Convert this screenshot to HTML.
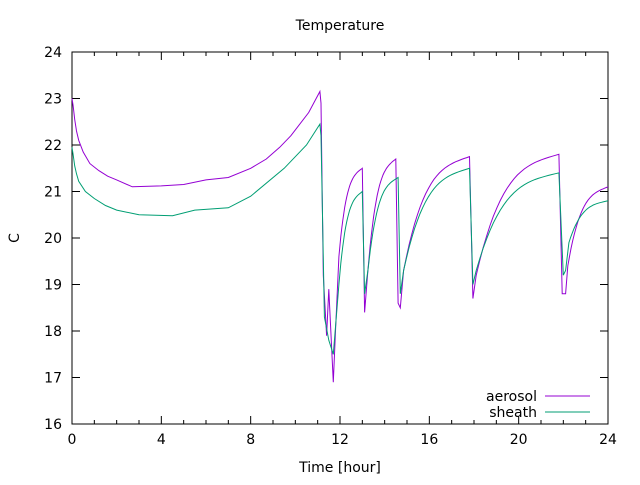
<!DOCTYPE html>
<html><head><meta charset="utf-8"><style>
body{margin:0;background:#fff}
text{font-family:"DejaVu Sans","Liberation Sans",sans-serif;font-size:14px;fill:#000}
</style></head><body>
<svg id="s" width="640" height="480" xmlns="http://www.w3.org/2000/svg">
<rect width="640" height="480" fill="#fff"/>
<g id="ax" stroke="#000" stroke-width="1" fill="none"></g>
<g id="lab"></g>
<text x="340" y="30" text-anchor="middle">Temperature</text>
<text x="340" y="472" text-anchor="middle">Time [hour]</text>
<text x="0" y="0" text-anchor="middle" transform="translate(19,238) rotate(-90)">C</text>
<text x="537" y="401" text-anchor="end">aerosol</text>
<text x="537" y="417" text-anchor="end">sheath</text>
<line x1="545" y1="396" x2="590" y2="396" stroke="#9400d3"/>
<line x1="545" y1="412" x2="590" y2="412" stroke="#009e73"/>
<polyline id="a" fill="none" stroke="#9400d3" stroke-width="1"/>
<polyline id="b" fill="none" stroke="#009e73" stroke-width="1"/>
</svg>
<script>
var X0=72,X1=608,Y0=424,Y1=52;
function px(t){return X0+(X1-X0)*t/24}
function py(v){return Y0-(Y0-Y1)*(v-16)/8}
var ns="http://www.w3.org/2000/svg";
var ax=document.getElementById('ax'),lab=document.getElementById('lab');
function L(x1,y1,x2,y2){var l=document.createElementNS(ns,'line');l.setAttribute('x1',x1);l.setAttribute('y1',y1);l.setAttribute('x2',x2);l.setAttribute('y2',y2);ax.appendChild(l)}
function T(x,y,s,a){var t=document.createElementNS(ns,'text');t.setAttribute('x',x);t.setAttribute('y',y);t.setAttribute('text-anchor',a);t.textContent=s;lab.appendChild(t)}
var r=document.createElementNS(ns,'rect');r.setAttribute('x',X0);r.setAttribute('y',Y1);r.setAttribute('width',X1-X0);r.setAttribute('height',Y0-Y1);ax.appendChild(r);
for(var v=16;v<=24;v++){var y=py(v);L(X0,y,X0+8,y);L(X1,y,X1-8,y);T(X0-10,y+5,v,'end');}
for(var t=0;t<=24;t++){var x=px(t);var len=t%4==0?8:4;L(x,Y0,x,Y0-len);L(x,Y1,x,Y1+len);if(t%4==0)T(x,Y0+20,t,'middle');}
var A=[[0,23.0],[0.05,22.85],[0.12,22.55],[0.2,22.3],[0.3,22.1],[0.5,21.85],[0.8,21.6],[1.2,21.45],[1.6,21.33],[2,21.25],[2.7,21.1],[4,21.12],[5,21.15],[6,21.25],[7,21.3],[8,21.5],[8.7,21.7],[9.3,21.95],[9.8,22.2],[10.6,22.7],[11.1,23.15],[11.15,22.9],[11.25,19.2],[11.4,17.9],[11.5,18.9],[11.7,16.9],[11.8,18.0],[11.95,19.6],['E',13.0,21.5],[13.1,18.4],[13.25,19.3],['E',14.5,21.7],[14.6,18.6],[14.7,18.5],[14.85,19.3],['E',17.8,21.75],[17.95,18.7],[18.1,19.2],['E',21.8,21.8],[21.95,18.8],[22.1,18.8],[22.2,19.4],['E',24,21.1]];
var B=[[0,21.95],[0.05,21.8],[0.12,21.55],[0.2,21.38],[0.3,21.22],[0.6,21.0],[1,20.85],[1.5,20.7],[2,20.6],[3,20.5],[4.5,20.48],[5.5,20.6],[7,20.65],[8,20.9],[9.5,21.5],[10.5,22.0],[11.1,22.45],[11.15,22.2],[11.3,18.3],[11.5,17.8],[11.7,17.5],[11.95,19.0],['E',13.0,21.0],[13.1,18.8],[13.25,19.3],['E',14.6,21.3],[14.7,18.8],[14.85,19.3],['E',17.8,21.5],[17.95,19.0],[18.1,19.3],['E',21.8,21.4],[22.0,19.2],[22.1,19.3],[22.25,19.9],['E',24,20.8]];
function expand(D){var o=[];for(var i=0;i<D.length;i++){var q=D[i];if(q[0]==='E'){var p=o[o.length-1],t1=q[1],v1=q[2];for(var k=1;k<=24;k++){var s=k/24,e=0.8*(1-Math.pow(1-s,3.5))+0.2*s;o.push([p[0]+(t1-p[0])*s,p[1]+(v1-p[1])*e]);}}else o.push(q);}return o}
function pts(D){return expand(D).map(function(p){return px(p[0]).toFixed(1)+','+py(p[1]).toFixed(1)}).join(' ')}
document.getElementById('a').setAttribute('points',pts(A));
document.getElementById('b').setAttribute('points',pts(B));
</script>
</body></html>
